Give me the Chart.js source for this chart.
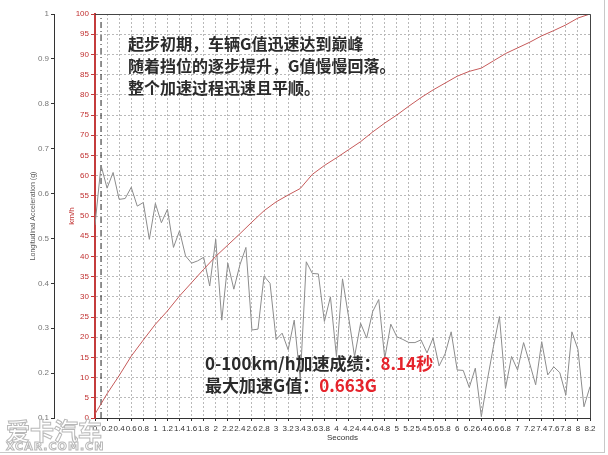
<!DOCTYPE html>
<html>
<head>
<meta charset="utf-8">
<script src="https://cdn.jsdelivr.net/npm/chart.js@4/dist/chart.umd.min.js"></script>
<style>
  html, body { margin: 0; padding: 0; background: #fff; }
  #wrap { position: relative; width: 608px; height: 455px; overflow: hidden; }
  #frame { position: absolute; left: 0; top: 0; width: 604px; height: 452px;
           border-right: 1px solid #c8c8c8; border-bottom: 1px solid #c8c8c8; pointer-events: none; }
  .note { position: absolute; font-family: "Noto Sans CJK SC", sans-serif; font-weight: bold; white-space: nowrap; color: #2b2b2b; }
  #noteTop { left: 128px; top: 32px; font-size: 16px; line-height: 22px; }
  #noteBottom { left: 205px; top: 352px; font-size: 17px; line-height: 22px; }
  .red { color: #e5232b; }
  .wm { position: absolute; font-family: "Noto Sans CJK SC", sans-serif; font-weight: bold; color: rgba(255,255,255,0.85);
        -webkit-text-stroke: 1px #b8b8b8; white-space: nowrap; }
  #wm1 { left: 6px; top: 412px; font-size: 24px; letter-spacing: 0px; }
  #wm2 { left: 6px; top: 440px; font-size: 11px; letter-spacing: 1px; font-family: "DejaVu Sans", sans-serif; }
</style>
</head>
<body>
<div id="wrap">
  <canvas id="chart" width="608" height="455"></canvas>
  <div id="noteTop" class="note">起步初期，车辆G值迅速达到巅峰<br>随着挡位的逐步提升，G值慢慢回落。<br>整个加速过程迅速且平顺。</div>
  <div id="noteBottom" class="note">0-100km/h加速成绩：<span class="red">8.14秒</span><br>最大加速G值：<span class="red">0.663G</span></div>
  <div id="wm1" class="wm">爱卡汽车</div>
  <div id="wm2" class="wm">XCAR.COM.CN</div>
  <div id="frame"></div>
</div>
<script>
// 加速度 (g)：0.1秒ごとのサンプル
const accelTimes = [0, 0.1, 0.2, 0.3, 0.4, 0.5, 0.6, 0.7, 0.8, 0.9,
    1, 1.1, 1.2, 1.3, 1.4, 1.5, 1.6, 1.7, 1.8, 1.9,
    2, 2.1, 2.2, 2.3, 2.4, 2.5, 2.6, 2.7, 2.8, 2.9,
    3, 3.1, 3.2, 3.3, 3.4, 3.5, 3.6, 3.7, 3.8, 3.9,
    4, 4.1, 4.2, 4.3, 4.4, 4.5, 4.6, 4.7, 4.8, 4.9,
    5, 5.1, 5.2, 5.3, 5.4, 5.5, 5.6, 5.7, 5.8, 5.9,
    6, 6.1, 6.2, 6.3, 6.4, 6.5, 6.6, 6.7, 6.8, 6.9,
    7, 7.1, 7.2, 7.3, 7.4, 7.5, 7.6, 7.7, 7.8, 7.9,
    8, 8.1, 8.2];
const accelG = [0.53, 0.663, 0.612, 0.647, 0.587, 0.589, 0.614, 0.572, 0.580, 0.498,
    0.578, 0.535, 0.565, 0.480, 0.517, 0.461, 0.445, 0.450, 0.458, 0.394,
    0.498, 0.318, 0.445, 0.387, 0.441, 0.480, 0.296, 0.298, 0.416, 0.400,
    0.275, 0.289, 0.252, 0.318, 0.185, 0.448, 0.422, 0.421, 0.315, 0.370,
    0.237, 0.410, 0.326, 0.237, 0.311, 0.278, 0.337, 0.364, 0.233, 0.309,
    0.281, 0.275, 0.268, 0.268, 0.274, 0.245, 0.278, 0.216, 0.243, 0.292,
    0.207, 0.206, 0.168, 0.211, 0.103, 0.185, 0.259, 0.326, 0.166, 0.237,
    0.207, 0.268, 0.222, 0.174, 0.270, 0.196, 0.214, 0.201, 0.151, 0.292,
    0.253, 0.125, 0.170];

// 車速 (km/h)
const speedTimes = [0, 0.1, 0.2, 0.4, 0.6, 0.8, 1, 1.2, 1.4, 1.6, 1.8,
    2, 2.2, 2.4, 2.6, 2.8, 3, 3.2, 3.4, 3.6, 3.8,
    4, 4.2, 4.4, 4.6, 4.8, 5, 5.2, 5.4, 5.6, 5.8,
    6, 6.2, 6.4, 6.6, 6.8, 7, 7.2, 7.4, 7.6, 7.8, 8, 8.2];
const speedKmh = [1, 3.5, 6, 10.5, 15.3, 19.3, 23.2, 26.5, 30.2, 33.5, 36.8,
    40, 42.8, 45.6, 48.5, 51.3, 53.5, 55.2, 56.8, 60.3, 62.5,
    64.4, 66.4, 68.4, 70.8, 73, 75, 77.2, 79.3, 81.2, 82.9,
    84.6, 85.8, 86.6, 88.4, 90.2, 91.6, 93, 94.6, 95.9, 97.3, 99, 100];

// 発進マーカー（一点鎖線）
const markerTime = 0.1;
const speedRange = [0, 100];
const accelRange = [0.1, 1];
const timeRange = [0, 8.2];

const gridColor = '#b9b9b9';
const axisRed = '#c43c3c';

// プロット枠（上・右）
const framePlugin = {
    id: 'frame',
    afterDraw(chart) {
        const {ctx, chartArea: a} = chart;
        ctx.save();
        ctx.strokeStyle = '#444';
        ctx.lineWidth = 1;
        ctx.beginPath();
        ctx.moveTo(a.left, a.top + 0.5);
        ctx.lineTo(a.right + 0.5, a.top + 0.5);
        ctx.lineTo(a.right + 0.5, a.bottom);
        ctx.stroke();
        ctx.restore();
    }
};

const ctx = document.getElementById('chart').getContext('2d');
new Chart(ctx, {
    type: 'line',
    data: {
        datasets: [
            {
                label: 'km/h',
                data: speedTimes.map((t, i) => ({x: t, y: speedKmh[i]})),
                yAxisID: 'ySpeed',
                borderColor: '#c65a5a',
                borderWidth: 1,
                pointRadius: 0,
                tension: 0
            },
            {
                label: 'G',
                data: accelTimes.map((t, i) => ({x: t, y: accelG[i]})),
                yAxisID: 'yG',
                borderColor: '#8c8c8c',
                borderWidth: 1,
                pointRadius: 0,
                tension: 0
            },
            {
                label: 'start',
                data: speedRange.map(v => ({x: markerTime, y: v})),
                yAxisID: 'ySpeed',
                borderColor: '#222',
                borderWidth: 1,
                borderDash: [6, 3, 1, 3],
                pointRadius: 0
            }
        ]
    },
    options: {
        responsive: false,
        devicePixelRatio: 1,
        animation: false,
        layout: { padding: { left: 0, top: 14, right: 18, bottom: 7 } },
        plugins: { legend: { display: false }, tooltip: { enabled: false } },
        scales: {
            x: {
                type: 'linear',
                position: 'bottom',
                min: timeRange[0],
                max: timeRange[1],
                afterFit: s => { s.height = 30; },
                ticks: {
                    stepSize: 0.2,
                    autoSkip: false,
                    maxRotation: 0,
                    minRotation: 0,
                    padding: 3,
                    color: '#333',
                    font: { family: 'Arial, "Liberation Sans"', size: 8 },
                    callback: v => String(Math.round(v * 10) / 10)
                },
                grid: { color: gridColor, tickLength: 3, tickColor: '#333', tickBorderDash: [] },
                border: { color: '#333', width: 1, dash: [2, 2] },
                title: {
                    display: true, text: 'Seconds', color: '#333',
                    font: { family: 'Arial, "Liberation Sans"', size: 8 },
                    padding: { top: 0, bottom: 5 }
                }
            },
            ySpeed: {
                position: 'left',
                weight: 0,
                min: speedRange[0],
                max: speedRange[1],
                afterFit: s => { s.width = 41; },
                ticks: {
                    stepSize: 5,
                    padding: 2,
                    color: '#c03030',
                    font: { family: 'Arial, "Liberation Sans"', size: 8 }
                },
                grid: { color: gridColor, tickLength: 4, tickColor: axisRed, tickBorderDash: [] },
                border: { color: axisRed, width: 2, dash: [2, 2] },
                title: {
                    display: true, text: 'km/h', color: '#c03030',
                    font: { family: 'Arial, "Liberation Sans"', size: 8 },
                    padding: { top: 13, bottom: 0 }
                }
            },
            yG: {
                position: 'left',
                weight: 1,
                min: accelRange[0],
                max: accelRange[1],
                afterFit: s => { s.width = 54; },
                ticks: {
                    stepSize: 0.1,
                    padding: 2,
                    color: '#777',
                    font: { family: 'Arial, "Liberation Sans"', size: 8 },
                    callback: v => String(Math.round(v * 10) / 10)
                },
                grid: { drawOnChartArea: false, tickLength: 3, tickColor: '#333', tickBorderDash: [] },
                border: { color: '#333', width: 1 },
                title: {
                    display: true, text: 'Longitudinal Acceleration (g)', color: '#555',
                    font: { family: 'Arial, "Liberation Sans"', size: 7 },
                    padding: { top: 29, bottom: 0 }
                }
            }
        }
    },
    plugins: [framePlugin]
});
</script>
</body>
</html>
